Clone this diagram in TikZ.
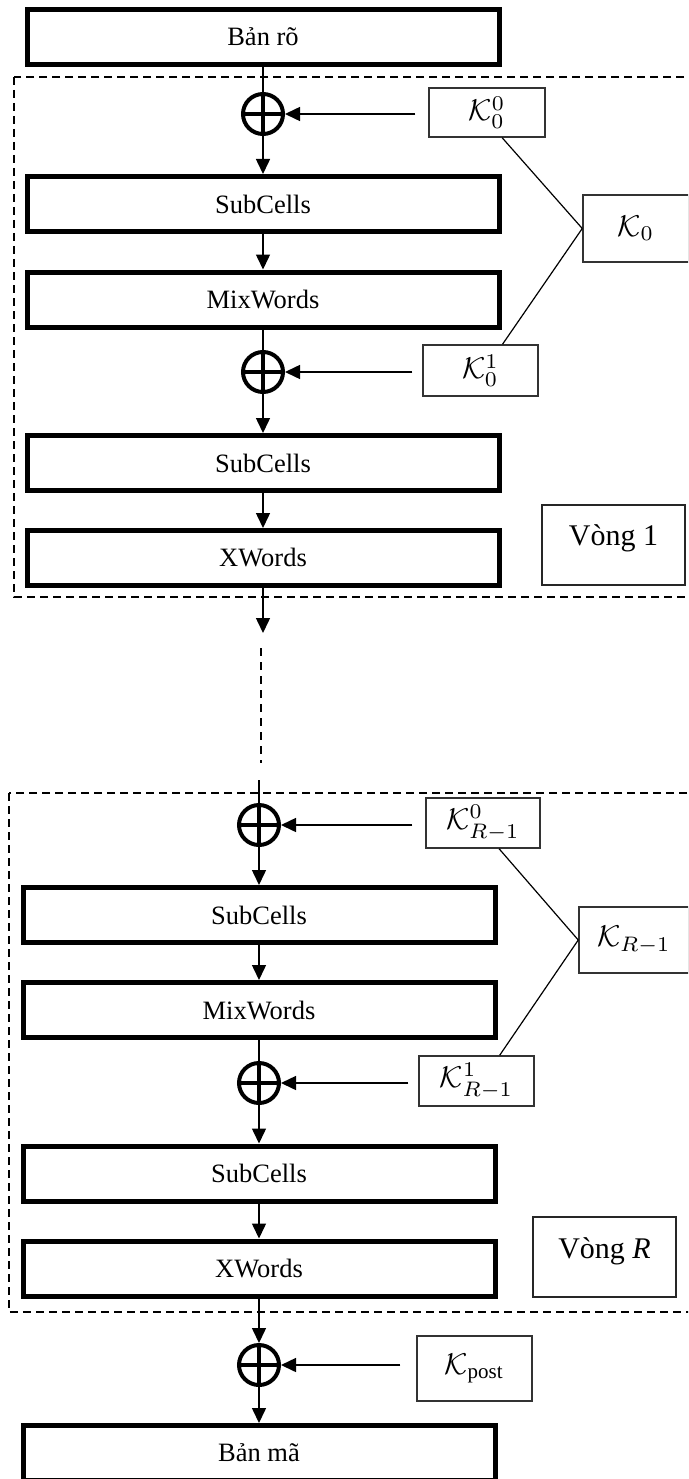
\documentclass[tikz,border=0pt]{standalone}
\usepackage{fontspec}
\setmainfont{Liberation Serif}
\usetikzlibrary{arrows.meta,calc}
\newcommand{\bigmath}[1]{\scalebox{3.0}{$#1$}}
\begin{document}
\begin{tikzpicture}[x=1pt,y=-1pt,
  mainbox/.style={draw, line width=5pt, minimum width=472pt, minimum height=55pt, inner sep=0pt, font=\fontsize{26.5}{30}\selectfont},
  keybox/.style={draw=black!80, line width=1.5pt, inner sep=0pt},
  roundbox/.style={draw=black!85, line width=1.5pt, inner sep=0pt, minimum width=143pt, minimum height=80pt},
  roundlabel/.style={font=\fontsize{30}{34}\selectfont, inner sep=0pt},
  xor/.style={circle, draw, line width=4pt, minimum size=40pt, inner sep=0pt,
    path picture={\draw[line width=4pt] (path picture bounding box.north) -- (path picture bounding box.south)
      (path picture bounding box.west) -- (path picture bounding box.east);}},
  conn/.style={line width=1.5pt},
  arr/.style={conn, -{Triangle[width=14pt,length=15pt]}},
  roundframe/.style={line width=1.3pt, dash pattern=on 8pt off 5pt},
  gapline/.style={line width=1.5pt, dash pattern=on 8pt off 6pt},
]
\useasboundingbox (0,0) rectangle (688,1479);
\clip (0,0) rectangle (688,1479);

% round frames
\draw[roundframe] (14,77) rectangle (700,597);
\draw[roundframe] (9,793) rectangle (700,1312);

% ---------- Round 1 ----------
\node[mainbox] (banro) at (263,37) {Bản rõ};
\node[xor] (x1) at (263,114) {};
\node[mainbox] (sub1) at (263,204) {SubCells};
\node[mainbox] (mix1) at (263,299.5) {MixWords};
\node[xor] (x2) at (263,372) {};
\node[mainbox] (sub2) at (263,463) {SubCells};
\node[mainbox] (xw1) at (263,558) {XWords};

\node[keybox, minimum width=116pt, minimum height=49pt] (k00) at (487,112.5) {\bigmath{\mathcal{K}_0^0}};
\node[keybox, minimum width=115pt, minimum height=51pt] (k01) at (480.5,370.5) {\bigmath{\mathcal{K}_0^1}};
\node[keybox, minimum width=106pt, minimum height=67pt] (k0) at (636,228.5) {\bigmath{\mathcal{K}_0}};
\node[roundbox] (vong1) at (613.5,545) {};
\node[roundlabel] (vong1t) at ([yshift=7pt]vong1.center) {Vòng 1};

\draw[conn] (banro) -- (x1);
\draw[arr] (x1) -- (sub1);
\draw[arr] (sub1) -- (mix1);
\draw[conn] (mix1) -- (x2);
\draw[arr] (x2) -- (sub2);
\draw[arr] (sub2) -- (xw1);
\draw[arr, shorten <=13pt] (k00.west |- x1.east) -- (x1.east);
\draw[arr, shorten <=10pt] (k01.west |- x2.east) -- (x2.east);
\draw[conn, line width=1.2pt] (k00.-59) -- (k0.west);
\draw[conn, line width=1.2pt] (k01.50) -- (k0.west);

% ---------- between rounds ----------
\coordinate (c1) at (263,633);
\coordinate (gapA) at (261,648);
\coordinate (gapB) at (261,763);
\coordinate (c2) at (259,780);
\draw[arr] (xw1) -- (c1);
\draw[gapline] (gapA) -- (gapB);

% ---------- Round R ----------
\node[xor] (x3) at (259,825) {};
\node[mainbox] (sub3) at (259,915) {SubCells};
\node[mainbox] (mix2) at (259,1010) {MixWords};
\node[xor] (x4) at (259,1083) {};
\node[mainbox] (sub4) at (259,1173.5) {SubCells};
\node[mainbox] (xw2) at (259,1268.5) {XWords};
\node[xor] (x5) at (259,1365) {};
\node[mainbox] (banma) at (259,1453) {Bản mã};

\node[keybox, minimum width=114pt, minimum height=50pt] (kr0) at (483,823) {\bigmath{\mathcal{K}_{R-1}^0}};
\node[keybox, minimum width=115pt, minimum height=50pt] (kr1) at (476.5,1081) {\bigmath{\mathcal{K}_{R-1}^1}};
\node[keybox, minimum width=110pt, minimum height=66pt] (kr) at (634,940) {\bigmath{\mathcal{K}_{R-1}}};
\node[keybox, minimum width=115pt, minimum height=65pt] (kpost) at (474.5,1368.5) {\bigmath{\mathcal{K}_{\mathrm{post}}}};
\node[roundbox] (vongR) at (604.5,1257) {};
\node[roundlabel] (vongRt) at ([yshift=6pt]vongR.center) {Vòng \textit{R}};

\draw[conn] (c2) -- (x3);
\draw[arr] (x3) -- (sub3);
\draw[arr] (sub3) -- (mix2);
\draw[conn] (mix2) -- (x4);
\draw[arr] (x4) -- (sub4);
\draw[arr] (sub4) -- (xw2);
\draw[arr] (xw2) -- (x5);
\draw[arr] (x5) -- (banma);
\draw[arr, shorten <=13pt] (kr0.west |- x3.east) -- (x3.east);
\draw[arr, shorten <=10pt] (kr1.west |- x4.east) -- (x4.east);
\draw[arr, shorten <=16pt] (kpost.west |- x5.east) -- (x5.east);
\draw[conn, line width=1.2pt] (kr0.-58) -- (kr.west);
\draw[conn, line width=1.2pt] (kr1.48) -- (kr.west);
\end{tikzpicture}
\end{document}
